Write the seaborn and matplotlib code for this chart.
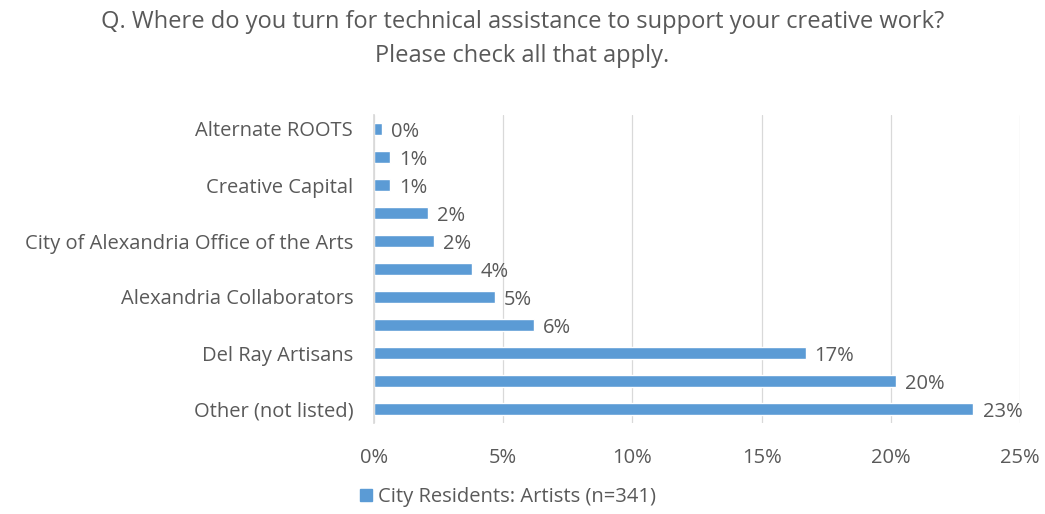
import matplotlib
matplotlib.use("Agg")
import matplotlib.pyplot as plt
import seaborn as sns
import pandas as pd
from matplotlib.patches import Patch

categories = ["Alternate ROOTS", "cat2", "Creative Capital", "cat4",
              "City of Alexandria Office of the Arts", "cat6",
              "Alexandria Collaborators", "cat8", "Del Ray Artisans", "cat10",
              "Other (not listed)"]
tick_labels = ["Alternate ROOTS", "", "Creative Capital", "",
               "City of Alexandria Office of the Arts", "",
               "Alexandria Collaborators", "", "Del Ray Artisans", "",
               "Other (not listed)"]
values = [0.31, 0.62, 0.62, 2.09, 2.32, 3.79, 4.68, 6.19, 16.7, 20.2, 23.2]
value_labels = ["0%", "1%", "1%", "2%", "2%", "4%", "5%", "6%", "17%", "20%", "23%"]
xticks = [0, 5, 10, 15, 20, 25]
series_name = "City Residents: Artists (n=341)"
title = "Q. Where do you turn for technical assistance to support your creative work?\nPlease check all that apply."

sns.set_theme(style="white")
plt.rcParams["font.family"] = ["Open Sans", "DejaVu Sans"]
grey = "#595959"
bar_color = "#5B9BD5"
fs = 14.5

df = pd.DataFrame({"cat": categories, "val": values})
fig = plt.figure(figsize=(10.45, 5.14), dpi=100)
ax = fig.add_axes([374/1045, 1-423/514, (1020-374)/1045, (423-115)/514])
sns.barplot(data=df, y="cat", x="val", orient="h", color=bar_color,
            width=0.42, ax=ax, order=categories, saturation=1)
ax.set_xlim(0, 25)
ax.set_ylim(10.5, -0.5)
ax.set_xticks(xticks)
ax.set_xticklabels([f"{t}%" for t in xticks], color=grey, fontsize=fs)
ax.set_yticks(range(len(categories)))
ax.set_yticklabels(tick_labels, color=grey, fontsize=fs)
ax.tick_params(axis="x", length=0, pad=18)
ax.tick_params(axis="y", length=0, pad=15)
ax.set_xlabel("")
ax.set_ylabel("")
ax.grid(axis="x", color="#d9d9d9", linewidth=0.9)
ax.set_axisbelow(True)
for s in ["top", "right", "bottom"]:
    ax.spines[s].set_visible(False)
ax.spines["left"].set_color("#d9d9d9")

for i, (v, lab) in enumerate(zip(values, value_labels)):
    ax.text(v + 0.35, i + 0.12, lab, color=grey, fontsize=fs, va="center", ha="left")

fig.text(0.5, 1-39/514, title, ha="center", va="center", color=grey,
         fontsize=17, linespacing=1.6)

fig.legend(handles=[Patch(color=bar_color, label=series_name)],
           loc="center left", bbox_to_anchor=(342/1045, 1-497/514), frameon=False,
           fontsize=fs, labelcolor=grey, handlelength=0.6, handleheight=0.6,
           handletextpad=0.3)

fig.savefig("out.png", dpi=100)
